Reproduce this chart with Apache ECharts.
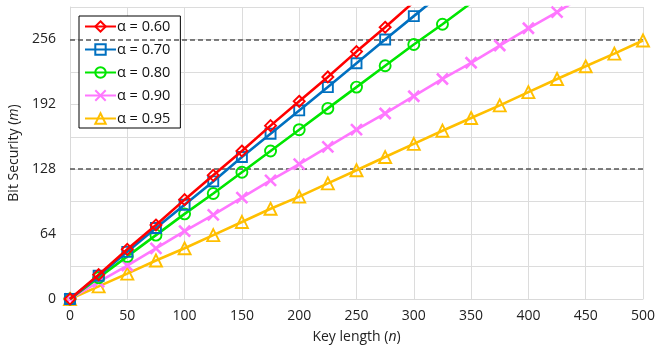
<!DOCTYPE html>
<html><head><meta charset="utf-8">
<script src="https://cdn.jsdelivr.net/npm/echarts@6/dist/echarts.min.js"></script>
<style>html,body{margin:0;padding:0;background:#fff}#c{width:657px;height:348px}</style>
</head><body><div id="c"></div>
<script>
const keyLengths = [0,25,50,75,100,125,150,175,200,225,250,275,300,325,350,375,400,425,450,475,500];
const seriesNames = ['α = 0.60','α = 0.70','α = 0.80','α = 0.90','α = 0.95'];
const alpha060 = [0,24,49,73,98,122,146,171,195,219,244,268,293];
const alpha070 = [0,23,46.5,70,93,116,140,163,186,209,232.5,256,279,302];
const alpha080 = [0,21,42,63,84,104,125,146,167,188,209,230,251,271,292];
const alpha090 = [0,17,33,50,67,83,100,117,133,150,167,183,200,217,233,250,267,283,300];
const alpha095 = [0,12.5,25,38,50,63,76,89,101,114,127,140,153,166,178.5,191,204,217,229.5,242,255];
const yTicks = [0,64,128,192,256];
const thresholds = [128,256];

const colors = ['#ff0000','#0070c0','#00e600','#ff77ff','#ffbf00'];
const symbols = ['diamond','rect','circle','path://M0,0L1,1M1,0L0,1','triangle'];
const sizes = [11,10,11,11,12];
const allData = [alpha060,alpha070,alpha080,alpha090,alpha095];
const FONT = '"Open Sans", "Noto Sans", sans-serif';

const series = allData.map((vals,i)=>({
  name: seriesNames[i],
  type: 'line',
  data: vals.map((v,j)=>[keyLengths[j], v]),
  symbol: symbols[i],
  symbolSize: sizes[i],
  showAllSymbol: true,
  clip: true,
  lineStyle: {color: colors[i], width: 2.6},
  itemStyle: {color: 'rgba(255,255,255,0)', borderColor: colors[i], borderWidth: i===3 ? 2.6 : 1.9},
  emphasis: {disabled: true},
  z: 10 - i
}));
series.push({
  name: 'thr', type: 'line', data: [], silent: true,
  markLine: {
    symbol: ['none','none'], silent: true, label: {show: false},
    lineStyle: {color: '#555', type: [5,3], width: 1.5},
    data: thresholds.map(t=>({yAxis: t}))
  }
});

const chart = echarts.init(document.getElementById('c'), null, {renderer: 'canvas'});
chart.setOption({
  animation: false,
  backgroundColor: '#fff',
  textStyle: {fontFamily: FONT},
  grid: {left: 70, right: 14, top: 7, bottom: 49, containLabel: false, outerBoundsMode: 'none'},
  legend: {
    data: seriesNames,
    orient: 'vertical', left: 79, top: 16,
    backgroundColor: '#fff',
    borderColor: '#000', borderWidth: 1, borderRadius: 0,
    padding: [3, 10, 2, 5],
    itemWidth: 31, itemHeight: 13, itemGap: 8,
    textStyle: {fontFamily: FONT, fontSize: 14.5, color: '#111', padding: [0,0,0,-4]}
  },
  xAxis: {
    type: 'value', min: 0, max: 500, interval: 50,
    name: 'Key length ({i|n})', nameLocation: 'middle', nameGap: 31,
    nameTextStyle: {fontFamily: FONT, fontSize: 14, color: '#222',
      rich: {i: {fontStyle: 'italic', fontFamily: FONT, fontSize: 14, color: '#222'}}},
    axisLine: {show: true, lineStyle: {color: '#d9d9d9'}},
    axisTick: {show: false},
    axisLabel: {fontFamily: FONT, fontSize: 14, color: '#222', margin: 10},
    splitLine: {show: true, lineStyle: {color: '#dcdcdc', width: 1}}
  },
  yAxis: {
    type: 'value', min: 0, max: 288, interval: 32,
    name: 'Bit Security ({i|m})', nameLocation: 'middle', nameGap: 48,
    nameTextStyle: {fontFamily: FONT, fontSize: 14, color: '#222',
      rich: {i: {fontStyle: 'italic', fontFamily: FONT, fontSize: 14, color: '#222'}}},
    axisLine: {show: true, lineStyle: {color: '#d9d9d9'}},
    axisTick: {show: false},
    axisLabel: {fontFamily: FONT, fontSize: 14, color: '#222', margin: 14,
      formatter: v => yTicks.indexOf(v) >= 0 ? String(v) : ''},
    splitLine: {show: true, lineStyle: {color: '#dcdcdc', width: 1}}
  },
  series: series
});
</script></body></html>
